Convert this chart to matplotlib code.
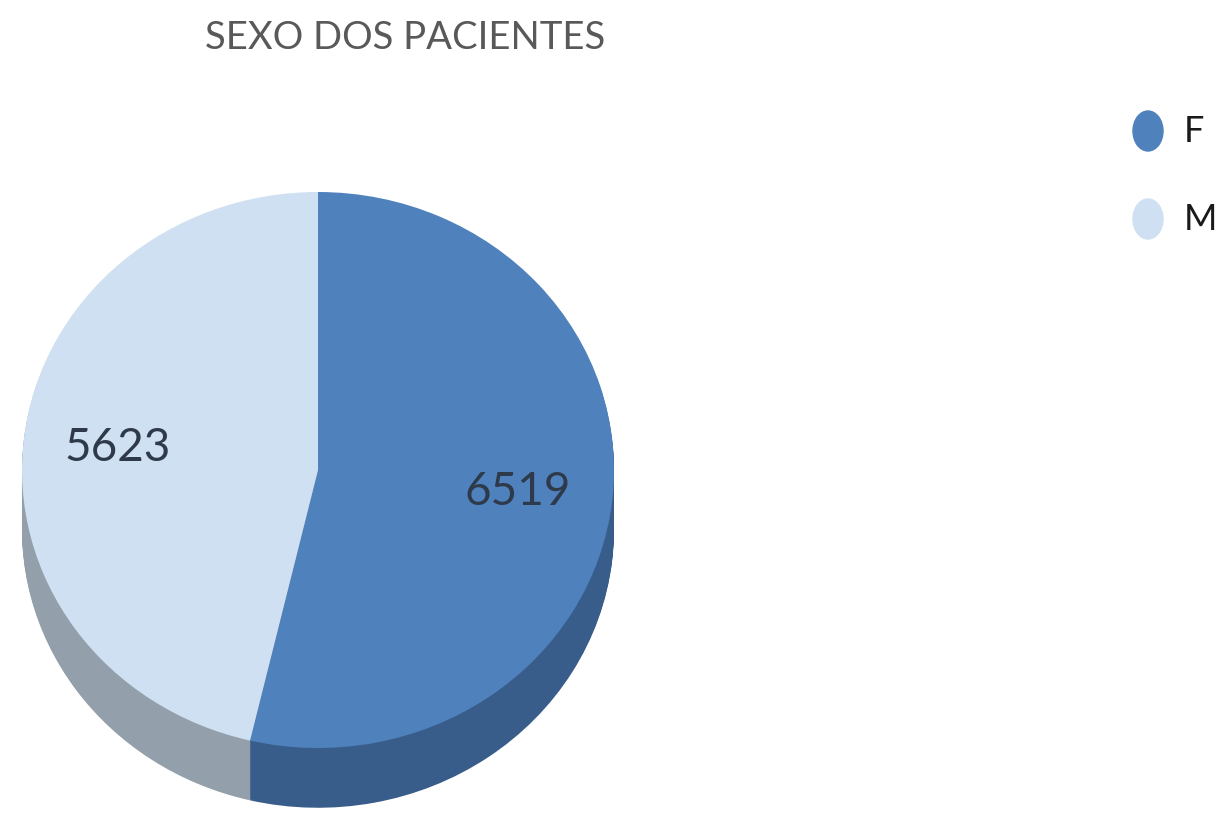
import numpy as np
import matplotlib.pyplot as plt
from matplotlib.patches import Ellipse

plt.rcParams['font.family'] = ['Lato', 'DejaVu Sans']

titulo = 'SEXO DOS PACIENTES'
sexo = ['F', 'M']
pacientes = [6519, 5623]
cores_topo = ['#4F81BD', '#CFE0F2']
cores_lado = ['#385D8A', '#939FAA']

fig = plt.figure(figsize=(12.21, 8.15), dpi=100)

# pie axes: x unit = 296 px, y unit = 278 px (tilted look), centre at px (318, 470)
W, H = 1221, 815
cx, cy, sx, sy = 318, 470, 296, 278
xl = (-1.05, 1.05)
yl = (-1.25, 1.05)
left = (cx + xl[0] * sx) / W
width = (xl[1] - xl[0]) * sx / W
bottom = (H - (cy - yl[0] * sy)) / H
height = (yl[1] - yl[0]) * sy / H
ax = fig.add_axes([left, bottom, width, height])

# side wall of the "3d" pie: stack of darker pies moved down
prof = 0.215
for d in np.linspace(prof, 0.005, 45):
    ax.pie(pacientes, colors=cores_lado, startangle=90, counterclock=False,
           center=(0, -d), radius=1, wedgeprops=dict(linewidth=0))

wedges, textos, autotextos = ax.pie(
    pacientes, colors=cores_topo, startangle=90, counterclock=False,
    radius=1, autopct=lambda p: '%d' % round(p * sum(pacientes) / 100),
    pctdistance=0.68, wedgeprops=dict(linewidth=0),
    textprops=dict(fontsize=33, color='#2E3A4A'))

ax.set_aspect('auto')
ax.set_xlim(*xl)
ax.set_ylim(*yl)
ax.axis('off')

fig.text(405 / W, 1 - 38 / H, titulo, ha='center', va='center',
         fontsize=27.5, color='#595959')

# legend
lax = fig.add_axes([0, 0, 1, 1])
lax.set_xlim(0, W)
lax.set_ylim(H, 0)
lax.axis('off')
for i, (s, c) in enumerate(zip(sexo, cores_topo)):
    y = 131 + i * 88
    lax.add_patch(Ellipse((1148, y), 30, 40, color=c))
    lax.text(1184, y, s, ha='left', va='center', fontsize=26, color='#1a1a1a')

fig.savefig('out.png', dpi=100)
